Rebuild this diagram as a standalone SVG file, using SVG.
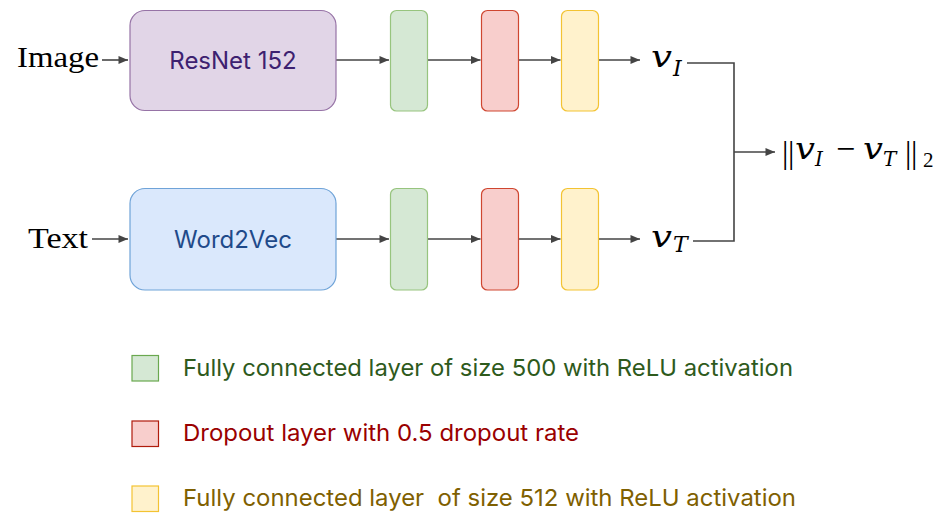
<svg xmlns="http://www.w3.org/2000/svg" width="942" height="523" viewBox="0 0 942 523">
<defs>
<marker id="arr" markerUnits="userSpaceOnUse" markerWidth="12" markerHeight="10" refX="10" refY="5" orient="auto">
<path d="M0.5,1 L10,5 L0.5,9 Z" fill="#444"/>
</marker>
<style>
.lbl{font-family:Inter,"Noto Sans",sans-serif;font-size:24px;text-anchor:middle}
.leg{font-family:Inter,"Noto Sans",sans-serif;font-size:23.5px;white-space:pre}
.m{font-family:"Liberation Serif","DejaVu Serif",serif}
.mi{font-family:"DejaVu Serif","Liberation Serif",serif;font-style:italic}
.c{fill:none;stroke:#444;stroke-width:1.6}
.g{fill:#d5e8d4;stroke:#97c47e;stroke-width:1.2}
.r{fill:#f8cecc;stroke:#cf4630;stroke-width:1.2}
.y{fill:#fff2cc;stroke:#f3c332;stroke-width:1.2}
</style>
</defs>

<g id="connectors">
<path class="c" d="M102,60 H128" marker-end="url(#arr)"/>
<path class="c" d="M336,60 H389" marker-end="url(#arr)"/>
<path class="c" d="M427.5,60 H480.5" marker-end="url(#arr)"/>
<path class="c" d="M518.5,60 H560.5" marker-end="url(#arr)"/>
<path class="c" d="M598.5,60 H640" marker-end="url(#arr)"/>
<path class="c" d="M92,239 H128" marker-end="url(#arr)"/>
<path class="c" d="M336,239 H389" marker-end="url(#arr)"/>
<path class="c" d="M427.5,239 H480.5" marker-end="url(#arr)"/>
<path class="c" d="M518.5,239 H560.5" marker-end="url(#arr)"/>
<path class="c" d="M598.5,239 H640" marker-end="url(#arr)"/>
<path class="c" d="M687,63 H734 V241 H693"/>
<path class="c" d="M734,152 H775" marker-end="url(#arr)"/>
</g>

<g id="image-label"><text class="m" x="17" y="67" font-size="30" textLength="82" lengthAdjust="spacingAndGlyphs">Image</text></g>
<g id="text-label"><text class="m" x="28" y="248" font-size="30" textLength="60" lengthAdjust="spacingAndGlyphs">Text</text></g>

<g id="resnet">
<rect x="130" y="10.5" width="206" height="100" rx="15" fill="#e1d5e7" stroke="#9673a6" stroke-width="1.2"/>
<text class="lbl" x="233" y="69" fill="#3d2170">ResNet 152</text>
</g>
<g id="word2vec">
<rect x="130" y="188.5" width="206" height="101.5" rx="15" fill="#dae8fc" stroke="#6fa3d8" stroke-width="1.2"/>
<text class="lbl" x="233" y="248" fill="#1f4a8a">Word2Vec</text>
</g>

<g id="fc500-top"><rect class="g" x="390.5" y="10.5" width="37" height="100.5" rx="6"/></g>
<g id="dropout-top"><rect class="r" x="481.5" y="10.5" width="37" height="100.5" rx="6"/></g>
<g id="fc512-top"><rect class="y" x="561.5" y="10.5" width="37" height="100.5" rx="6"/></g>
<g id="fc500-bottom"><rect class="g" x="390.5" y="188.5" width="37" height="101.5" rx="6"/></g>
<g id="dropout-bottom"><rect class="r" x="481.5" y="188.5" width="37" height="101.5" rx="6"/></g>
<g id="fc512-bottom"><rect class="y" x="561.5" y="188.5" width="37" height="101.5" rx="6"/></g>

<g id="vI">
<text class="mi" x="651" y="67" font-size="30" textLength="21" lengthAdjust="spacingAndGlyphs">v</text>
<text class="mi" x="673" y="76" font-size="22">I</text>
</g>
<g id="vT">
<text class="mi" x="651" y="246.5" font-size="30" textLength="21" lengthAdjust="spacingAndGlyphs">v</text>
<text class="mi" x="673" y="251.5" font-size="22">T</text>
</g>

<g id="norm">
<text class="m" x="782" y="163" font-size="32" letter-spacing="-0.5">||</text>
<text class="mi" x="795" y="159" font-size="30" textLength="20" lengthAdjust="spacingAndGlyphs">v</text>
<text class="mi" x="815" y="165.5" font-size="20">I</text>
<text class="m" x="836" y="160" font-size="34">−</text>
<text class="mi" x="863" y="159" font-size="30" textLength="20" lengthAdjust="spacingAndGlyphs">v</text>
<text class="mi" x="883" y="165.5" font-size="20">T</text>
<text class="m" x="905" y="163" font-size="32" letter-spacing="-0.5">||</text>
<text class="m" x="923" y="166.5" font-size="21">2</text>
</g>

<g id="legend-fc500">
<rect x="132" y="355.5" width="26.5" height="25.5" fill="#d5e8d4" stroke="#6aa84f" stroke-width="1.2"/>
<text class="leg" x="183" y="376" fill="#2e5a1c" textLength="610" lengthAdjust="spacingAndGlyphs">Fully connected layer of size 500 with ReLU activation</text>
</g>
<g id="legend-dropout">
<rect x="132" y="421" width="26.5" height="25.5" fill="#f8cecc" stroke="#b01c0c" stroke-width="1.2"/>
<text class="leg" x="183" y="441" fill="#9a0000" textLength="396" lengthAdjust="spacingAndGlyphs">Dropout layer with 0.5 dropout rate</text>
</g>
<g id="legend-fc512">
<rect x="132" y="486" width="26.5" height="25.5" fill="#fff2cc" stroke="#f3c332" stroke-width="1.2"/>
<text class="leg" x="183" y="506" fill="#7f6000" textLength="613" lengthAdjust="spacingAndGlyphs">Fully connected layer  of size 512 with ReLU activation</text>
</g>
</svg>
